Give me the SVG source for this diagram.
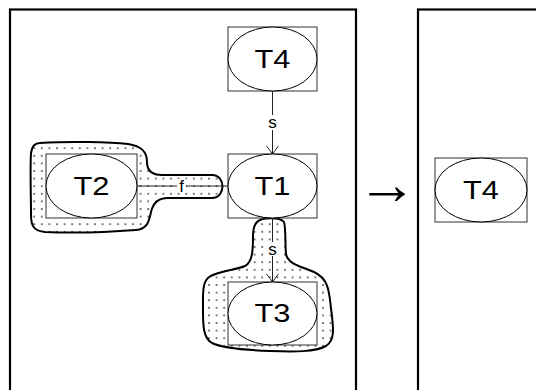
<svg xmlns="http://www.w3.org/2000/svg" width="536" height="390" viewBox="0 0 536 390">
<style>
.frame{fill:none;stroke:#000;stroke-width:2.2}
.blob{fill:url(#dots);stroke:#000;stroke-width:2}
.box{fill:#fff;stroke:#333;stroke-width:1}
.ell{fill:#fff;stroke:#000;stroke-width:1}
.lbl{font-family:"Liberation Sans",Arial,sans-serif;font-size:25px;fill:#000;text-anchor:middle}
.elbl{font-family:"Liberation Sans",Arial,sans-serif;font-size:17px;fill:#000;text-anchor:middle}
.edge{fill:none;stroke:#222;stroke-width:1}
.bg{fill:#fff}
</style>
<defs>
<pattern id="dots" patternUnits="userSpaceOnUse" width="7.6" height="7.6">
<rect width="7.6" height="7.6" fill="#fff"/>
<circle cx="3.8" cy="3.8" r="1" fill="#555"/>
</pattern>
<marker id="vee" markerUnits="userSpaceOnUse" viewBox="-10 -8 12 16" refX="0" refY="0" markerWidth="12" markerHeight="16" orient="auto">
<path d="M-8,-6 Q-3,-2 0,0 Q-3,2 -8,6" fill="none" stroke="#222" stroke-width="1"/>
</marker>
</defs>
<rect class="frame" x="10" y="9.5" width="346" height="400"/>
<rect class="frame" x="418" y="9.5" width="140" height="400"/>
<text transform="matrix(1.25,0,0,1.2,387,203.5)" font-family="Liberation Serif, serif" font-size="48" text-anchor="middle">→</text>
<g id="regions">
<path class="blob" d="M40,143 C70,141 110,142 128,144 C142,146 147,152 147,162 C147,170 152,175 162,175 L212,175 C226,175 226,198 212,198 L168,198 C158,198 153,203 151,212 C149,222 147,229 136,230 C110,232 70,233 45,232 C34,231 31,226 31,215 C31,195 30,170 31,153 C32,146 35,143 40,143 Z"/>
<path class="blob" d="M257,222 C262,217 280,217 284,222 C286,228 285,245 286,254 C288,264 300,266 314,272 C329,279 329,292 331,308 C333,325 336,340 326,346 C315,352 295,352 270,351 C245,350 222,348 212,343 C203,338 203,325 203,310 C203,295 202,282 209,277 C218,271 236,270 245,266 C253,262 253,248 253,236 C253,229 254,225 257,222 Z"/>
</g>
<g id="connectors">
<line class="edge" x1="272.5" y1="91" x2="272.5" y2="154" marker-end="url(#vee)"/>
<rect class="bg" x="266" y="115" width="13" height="15"/>
<text class="elbl" x="272.5" y="128">s</text>
<line class="edge" x1="272.5" y1="218" x2="272.5" y2="282" marker-end="url(#vee)"/>
<rect class="bg" x="266.5" y="242" width="12" height="14"/>
<text class="elbl" x="272.5" y="255">s</text>
<line class="edge" x1="137" y1="186" x2="228" y2="186"/>
<rect class="bg" x="177" y="179" width="9" height="13"/>
<text class="elbl" x="181.5" y="191.5">f</text>
</g>
<g id="T4">
<rect class="box" x="228" y="27" width="89" height="64"/>
<ellipse class="ell" cx="272.5" cy="59" rx="44.5" ry="32"/>
<text class="lbl" x="272.5" y="67.5" textLength="36" lengthAdjust="spacingAndGlyphs">T4</text>
</g>
<g id="T1">
<rect class="box" x="228" y="154" width="89" height="64"/>
<ellipse class="ell" cx="272.5" cy="186" rx="44.5" ry="32"/>
<text class="lbl" x="272.5" y="194.5" textLength="36" lengthAdjust="spacingAndGlyphs">T1</text>
</g>
<g id="T2">
<rect class="box" x="46" y="154" width="91" height="64"/>
<ellipse class="ell" cx="91.5" cy="186" rx="45.5" ry="32"/>
<text class="lbl" x="91.5" y="194.5" textLength="36" lengthAdjust="spacingAndGlyphs">T2</text>
</g>
<g id="T3">
<rect class="box" x="228" y="282" width="89" height="63"/>
<ellipse class="ell" cx="272.5" cy="313.5" rx="44.5" ry="31.5"/>
<text class="lbl" x="272.5" y="322" textLength="36" lengthAdjust="spacingAndGlyphs">T3</text>
</g>
<g id="T4b">
<rect class="box" x="435" y="158" width="92" height="64"/>
<ellipse class="ell" cx="481" cy="190" rx="46" ry="32"/>
<text class="lbl" x="481" y="198.5" textLength="36" lengthAdjust="spacingAndGlyphs">T4</text>
</g>
</svg>
